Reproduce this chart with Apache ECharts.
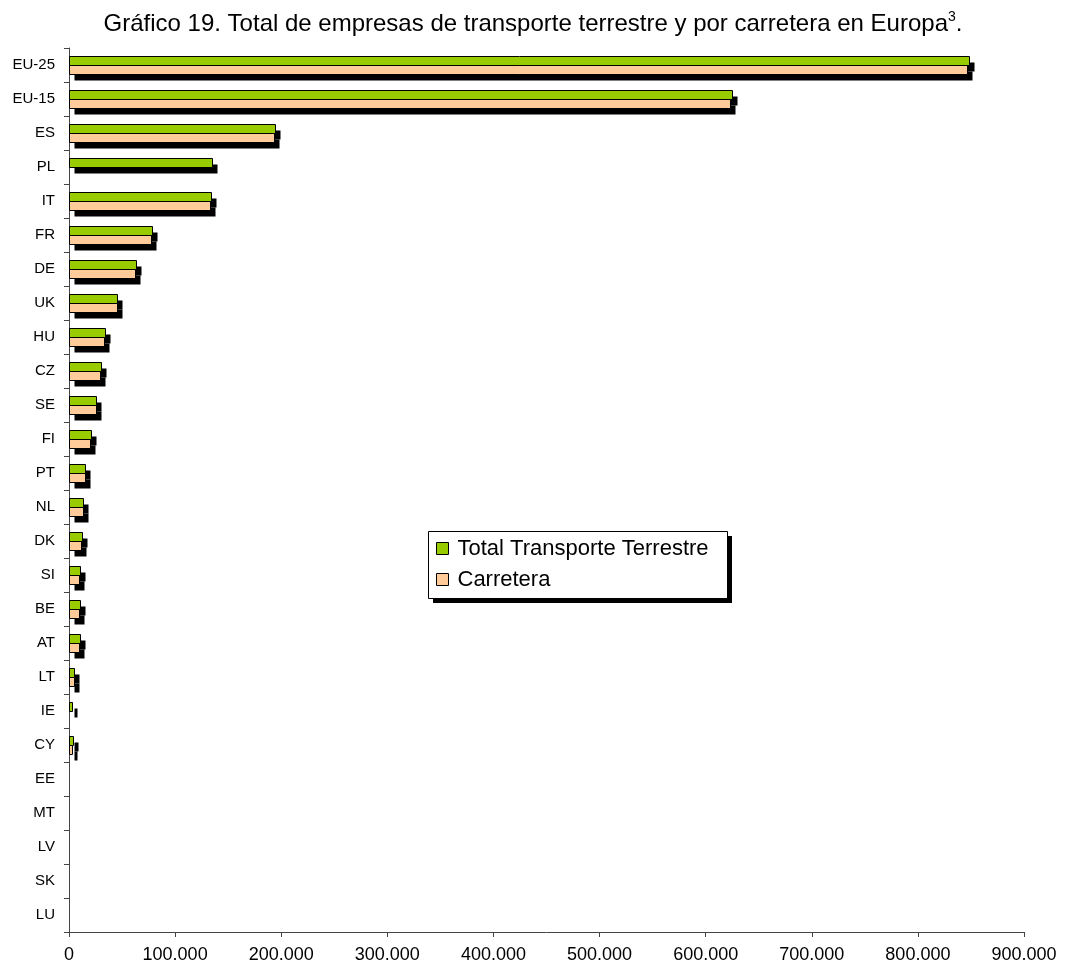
<!doctype html>
<html>
    <head>
        <meta charset="utf-8">
        <title>Empresas de transporte terrestre en Europa</title>
        <style>
            html, body { margin: 0; padding: 0; background: #fff; }
            #main { width: 1066px; height: 964px; }
        </style>
    </head>
    <body>
        <div id="main"></div>
        <script src="https://cdn.jsdelivr.net/npm/echarts@6/dist/echarts.min.js"></script>
        <script>
            var countries = ['EU-25', 'EU-15', 'ES', 'PL', 'IT', 'FR', 'DE', 'UK', 'HU', 'CZ', 'SE', 'FI', 'PT',
                'NL', 'DK', 'SI', 'BE', 'AT', 'LT', 'IE', 'CY', 'EE', 'MT', 'LV', 'SK', 'LU'];

            // empresas (estimado del gráfico); null = sin dato
            var totalTerrestre = [848000, 625000, 194000, 135000, 133500, 78000, 63000, 45500, 34000, 30000, 25400,
                20400, 15400, 13200, 12000, 10400, 10400, 10400, 5000, 3100, 3500, null, null, null, null, null];
            var carretera = [846000, 623000, 193500, null, 133000, 77000, 62000, 45000, 33000, 29500, 25000,
                19800, 15000, 12900, 11300, 9700, 9700, 9700, 4400, null, 2800, null, null, null, null, null];

            var xTicks = [0, 100000, 200000, 300000, 400000, 500000, 600000, 700000, 800000, 900000];

            var font = 'Liberation Sans, Arial, sans-serif';
            var BAR_H = 9;
            var SHADOW_X = 5;
            var SHADOW_Y = 6;

            function fmt(v) {
                return String(v).replace(/\B(?=(\d{3})+(?!\d))/g, '.');
            }

            // barra con sombra negra desplazada (estilo Excel); offset = posición dentro de la banda
            function barRenderer(color, offset) {
                return function (params, api) {
                    var val = api.value(0);
                    if (val == null || isNaN(val)) {
                        return null;
                    }
                    var idx = api.value(1);
                    var p0 = api.coord([0, idx]);
                    var p1 = api.coord([val, idx]);
                    var x = Math.round(p0[0]) + 0.5;
                    var w = Math.max(Math.round(p1[0] - p0[0]), 1);
                    var y = Math.round(p0[1] + offset) + 0.5;
                    return {
                        type: 'group',
                        children: [
                            {
                                type: 'rect',
                                shape: { x: x + SHADOW_X, y: y + SHADOW_Y, width: w, height: BAR_H },
                                style: { fill: '#000' }
                            },
                            {
                                type: 'rect',
                                shape: { x: x, y: y, width: w, height: BAR_H },
                                style: { fill: color, stroke: '#000', lineWidth: 1 }
                            }
                        ]
                    };
                };
            }

            function toItems(arr) {
                return arr.map(function (v, i) { return [v, i]; });
            }

            var chart = echarts.init(document.getElementById('main'));

            chart.setOption({
                animation: false,
                backgroundColor: '#fff',
                title: {
                    left: 'center',
                    top: 5,
                    text: '{t|Gráfico 19. Total de empresas de transporte terrestre y por carretera en Europa}{s|3}{t|.}',
                    textStyle: {
                        rich: {
                            t: { fontFamily: font, fontSize: 24, fontWeight: 'normal', color: '#000', lineHeight: 29 },
                            s: { fontFamily: font, fontSize: 14, fontWeight: 'normal', color: '#000', verticalAlign: 'top', lineHeight: 14 }
                        }
                    }
                },
                graphic: [
                    {
                        type: 'rect',
                        z: 1,
                        shape: { x: 433, y: 536, width: 299, height: 67 },
                        style: { fill: '#000' }
                    },
                    {
                        type: 'rect',
                        z: 2,
                        shape: { x: 428.5, y: 531.5, width: 299, height: 67 },
                        style: { fill: '#fff', stroke: '#000', lineWidth: 1 }
                    }
                ],
                legend: {
                    orient: 'vertical',
                    left: 428,
                    top: 532,
                    z: 10,
                    padding: [4, 13, 4, 8],
                    itemGap: 6,
                    itemWidth: 12,
                    itemHeight: 12,
                    icon: 'rect',
                    itemStyle: {
                        borderColor: '#000',
                        borderWidth: 1
                    },
                    textStyle: {
                        fontFamily: font,
                        fontSize: 22,
                        lineHeight: 25,
                        color: '#000',
                        padding: [0, 0, 0, 4]
                    },
                    data: ['Total Transporte Terrestre', 'Carretera']
                },
                grid: {
                    left: 69,
                    right: 42,
                    top: 48,
                    bottom: 32,
                    containLabel: false
                },
                xAxis: {
                    type: 'value',
                    min: xTicks[0],
                    max: xTicks[xTicks.length - 1],
                    interval: xTicks[1] - xTicks[0],
                    splitLine: { show: false },
                    axisLine: { show: true, lineStyle: { color: '#444', width: 1 } },
                    axisTick: { show: true, length: 5, lineStyle: { color: '#444' } },
                    axisLabel: {
                        margin: 14,
                        fontFamily: font,
                        fontSize: 18,
                        color: '#000',
                        formatter: fmt
                    }
                },
                yAxis: {
                    type: 'category',
                    inverse: true,
                    data: countries,
                    axisLine: { show: true, lineStyle: { color: '#444', width: 1 } },
                    axisTick: { show: true, length: 5, lineStyle: { color: '#444' } },
                    axisLabel: {
                        margin: 14,
                        fontFamily: font,
                        fontSize: 15,
                        color: '#000'
                    }
                },
                series: [
                    {
                        name: 'Total Transporte Terrestre',
                        type: 'custom',
                        renderItem: barRenderer('#99cc00', -BAR_H),
                        encode: { x: 0, y: 1 },
                        itemStyle: { color: '#99cc00' },
                        data: toItems(totalTerrestre),
                        z: 3
                    },
                    {
                        name: 'Carretera',
                        type: 'custom',
                        renderItem: barRenderer('#ffcc99', 0),
                        encode: { x: 0, y: 1 },
                        itemStyle: { color: '#ffcc99' },
                        data: toItems(carretera),
                        z: 4
                    }
                ]
            });

            window.addEventListener('resize', function () {
                chart.resize();
            });
        </script>
    </body>
</html>
